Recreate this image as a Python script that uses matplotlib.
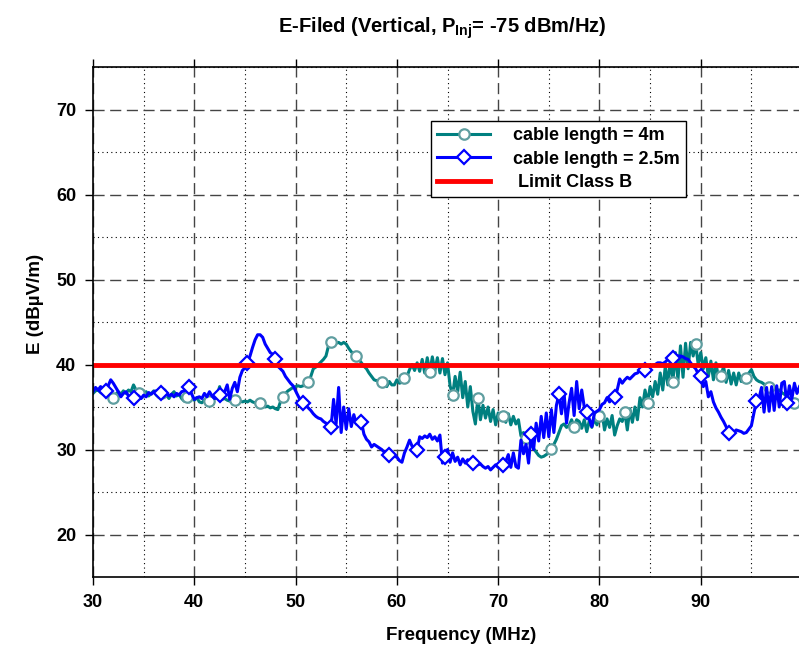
import numpy as np
import matplotlib
matplotlib.use("Agg")
import matplotlib.pyplot as plt

plt.rcParams['font.family'] = ['Liberation Sans', 'DejaVu Sans']
plt.rcParams['font.weight'] = 'bold'
plt.rcParams['mathtext.fontset'] = 'custom'
plt.rcParams['mathtext.rm'] = 'Liberation Sans:bold'
plt.rcParams['mathtext.it'] = 'Liberation Sans:bold'

# frequency grid, 0.25 MHz steps
freq = np.arange(30, 100, 0.25)

# E-field, cable length = 4m (dBuV/m), one row per 5 MHz
e_4m = [
    36.6, 36.9, 37.0, 36.7, 36.5, 36.8, 36.4, 36.2, 36.1, 36.5, 36.8, 36.5, 36.9, 36.6, 37.0, 36.8, 37.6, 37.0, 36.6, 36.2,
    36.4, 36.8, 36.3, 36.6, 36.9, 36.4, 36.2, 36.6, 36.1, 36.4, 36.0, 36.5, 36.8, 36.3, 36.5, 36.0, 35.7, 36.2, 35.6, 36.0,
    35.8, 36.1, 35.6, 35.5, 35.8, 36.0, 35.7, 36.2, 36.0, 36.3, 37.4, 35.9, 36.0, 35.8, 35.7, 35.6, 35.8, 36.0, 35.7, 35.6,
    35.7, 35.6, 35.8, 35.6, 35.5, 35.6, 35.5, 35.3, 35.0, 35.1, 34.9, 35.0, 34.8, 34.7, 35.6, 36.2, 36.6, 36.9, 37.1, 37.3,
    37.4, 37.5, 37.4, 37.5, 37.6, 38.0, 38.6, 39.5, 39.7, 40.0, 40.3, 40.6, 41.0, 42.2, 42.7, 42.6, 42.5, 42.6, 42.4, 42.6,
    42.4, 41.9, 41.5, 41.2, 41.0, 40.6, 40.2, 39.8, 39.5, 39.0, 38.6, 38.2, 38.1, 38.0, 37.9, 37.8, 37.4, 38.0, 37.6, 37.6,
    38.2, 37.8, 37.9, 38.4, 38.6, 39.4, 40.0, 39.3, 40.2, 39.2, 40.6, 39.0, 40.8, 39.1, 40.9, 39.3, 40.8, 39.0, 40.7, 38.8,
    40.2, 37.5, 36.4, 38.6, 36.8, 39.1, 36.1, 38.0, 35.0, 37.4, 34.5, 33.0, 36.1, 33.5, 35.2, 33.7, 35.0, 33.3, 34.7, 32.9,
    34.3, 33.7, 34.0, 33.2, 34.2, 32.9, 33.9, 33.0, 33.5, 31.6, 32.0, 31.4, 31.0, 30.6, 30.1, 29.7, 29.3, 29.1, 29.2, 29.4,
    29.6, 30.1, 30.6, 31.2, 32.0, 32.8, 33.0, 32.6, 32.8, 33.5, 32.7, 33.5, 33.3, 32.5, 33.5, 32.1, 33.4, 32.6, 33.6, 32.9,
    33.9, 34.4, 32.3, 33.6, 32.6, 34.0, 31.7, 32.8, 33.6, 33.3, 34.4, 32.3, 34.8, 33.2, 35.0, 33.5, 36.1, 35.0, 37.0, 35.5,
    37.4, 36.2, 38.0, 36.5, 39.0, 37.0, 39.8, 37.6, 40.6, 38.0, 41.4, 38.2, 42.2, 38.5, 42.5, 39.5, 42.6, 41.0, 42.4, 40.0,
    41.4, 39.5, 40.8, 38.6, 40.4, 38.2, 40.2, 38.4, 38.6, 39.8, 37.9, 39.3, 37.7, 39.0, 37.6, 39.0, 38.0, 38.7, 38.4, 39.0,
    39.4, 38.6, 38.2, 38.0, 37.9, 37.7, 37.5, 37.4, 37.3, 37.2, 37.0, 37.0, 36.7, 36.5, 36.3, 36.0, 35.7, 35.5, 35.4, 35.3,
]

# E-field, cable length = 2.5m (dBuV/m)
e_25m = [
    36.8, 37.3, 37.0, 37.4, 37.1, 36.9, 37.5, 38.2, 37.8, 37.3, 36.8, 36.2, 36.6, 36.8, 36.3, 35.9, 36.1, 36.5, 36.3, 36.0,
    36.4, 36.2, 36.7, 36.5, 36.8, 36.9, 36.8, 36.6, 36.4, 36.7, 36.3, 36.5, 36.2, 36.6, 36.4, 36.8, 36.9, 37.2, 37.4, 36.5,
    35.9, 36.1, 36.2, 36.0, 36.6, 36.2, 36.8, 36.3, 36.0, 36.1, 36.4, 36.2, 36.8, 37.6, 35.9, 37.2, 37.9, 36.8, 38.5, 39.3,
    39.6, 40.2, 41.0, 42.0, 42.9, 43.5, 43.5, 43.2, 42.4, 41.9, 41.4, 41.2, 40.7, 39.8, 39.5, 39.2, 38.6, 38.2, 37.8, 37.5,
    36.9, 36.3, 35.7, 35.5, 35.2, 34.9, 34.6, 34.2, 33.9, 33.7, 33.6, 33.3, 33.1, 32.8, 32.6, 35.9, 33.0, 37.3, 32.0, 35.0,
    32.4, 34.8, 32.7, 34.1, 33.0, 33.5, 33.2, 31.8, 31.2, 30.9, 30.3, 30.6, 30.4, 30.2, 30.0, 29.7, 29.5, 29.4, 29.6, 29.2,
    29.1, 28.7, 28.5, 29.6, 30.3, 31.1, 30.4, 30.2, 30.0, 31.5, 31.3, 31.6, 31.4, 31.8, 31.2, 31.5, 31.0, 31.7, 28.4, 29.1,
    30.0, 28.5, 29.6, 28.6, 29.1, 28.2, 28.9, 28.4, 28.8, 28.3, 28.4, 28.6, 28.2, 28.3, 28.0, 27.8, 28.0, 27.6, 27.9, 28.2,
    27.9, 28.3, 28.2, 28.6, 29.4, 27.9, 29.6, 28.0, 27.8, 31.1, 29.5, 30.6, 28.4, 31.8, 30.0, 33.1, 31.0, 33.9, 31.4, 34.3,
    31.5, 34.7, 32.0, 35.2, 36.5, 34.2, 36.7, 33.1, 35.5, 37.2, 34.0, 38.0, 34.8, 37.0, 35.0, 34.4, 33.6, 32.7, 34.3, 34.5,
    34.7, 35.3, 35.5, 36.1, 35.6, 36.0, 36.2, 37.0, 38.3, 37.8, 38.2, 38.5, 38.3, 38.6, 38.9, 39.0, 39.3, 39.3, 39.4, 39.6,
    39.8, 39.9, 40.0, 40.2, 40.2, 40.1, 40.3, 40.6, 40.7, 40.8, 41.0, 41.0, 41.0, 40.9, 40.7, 40.6, 40.2, 39.8, 39.5, 38.9,
    38.6, 37.4, 38.0, 36.2, 36.8, 35.6, 34.9, 34.4, 33.8, 33.3, 32.7, 31.9, 31.6, 32.0, 32.3, 32.2, 32.1, 31.9, 32.0, 32.4,
    32.8, 34.3, 35.7, 36.0, 37.3, 34.4, 37.3, 34.5, 37.4, 34.6, 37.5, 35.0, 37.8, 38.0, 35.5, 37.5, 36.0, 37.8, 36.6, 37.4,
]

limit_class_b = 40

# marker positions (MHz)
mark_4m = np.arange(32.0, 100, 2.4)
mark_25m = np.arange(31.2, 100, 2.8)
idx_4m = [int(round((f - 30) / 0.25)) for f in mark_4m]
idx_25m = [int(round((f - 30) / 0.25)) for f in mark_25m]

fig = plt.figure(figsize=(7.99, 6.5), dpi=100)
ax = fig.add_axes([0.1164, 0.1123, 0.8836, 0.7846])

ax.plot(freq, e_4m, color='#008080', lw=2.2, marker='o', markevery=idx_4m,
        ms=7.5, mfc='white', mec='#5f9ea0', mew=1.6, label='cable length = 4m')
ax.plot(freq, e_25m, color='#0000ff', lw=2.2, marker='D', markevery=idx_25m,
        ms=7.5, mfc='white', mec='#0000ff', mew=1.6, label='cable length = 2.5m')
ax.axhline(limit_class_b, color='#ff0000', lw=3.5, label=' Limit Class B')

ax.set_xlim(30, 99.7)
ax.set_ylim(15, 75)
ax.set_xticks(np.arange(30, 100, 10))
ax.set_xticks(np.arange(35, 100, 10), minor=True)
ax.set_yticks(np.arange(20, 75, 10))
ax.set_yticks(np.arange(25, 80, 10), minor=True)

ax.set_axisbelow(True)
ax.grid(which='major', linestyle=(0, (8, 4)), color='#444444', lw=1.0)
ax.grid(which='minor', linestyle=(0, (1, 3)), color='black', lw=0.8)
ax.tick_params(which='major', direction='out', length=6, width=1, top=True,
               labelsize=13, pad=6)
ax.tick_params(which='minor', length=0)
for lab in ax.get_xticklabels() + ax.get_yticklabels():
    lab.set_fontweight('bold')
ax.spines['right'].set_visible(False)
for s in ['left', 'top', 'bottom']:
    ax.spines[s].set_linewidth(1.2)

ax.set_xlabel('Frequency (MHz)', fontsize=13.5, fontweight='bold')
ax.xaxis.set_label_coords(0.521, -0.098)
ax.set_ylabel('E (dBµV/m)', fontsize=13.5, fontweight='bold')
ax.yaxis.set_label_coords(-0.07, 0.535)
fig.text(0.553, 0.957, r'E-Filed (Vertical, P$_{\rm Inj}$= -75 dBm/Hz)',
         ha='center', va='center', fontsize=14.5, fontweight='bold')

leg = ax.legend(loc='upper left', bbox_to_anchor=(0.479, 0.894), fontsize=13,
                numpoints=1, handlelength=2.9, fancybox=False, framealpha=1,
                edgecolor='black', borderpad=0.35, labelspacing=0.35,
                handletextpad=1.3, borderaxespad=0)
leg.get_frame().set_linewidth(1.0)

fig.savefig('out.png', dpi=100)
